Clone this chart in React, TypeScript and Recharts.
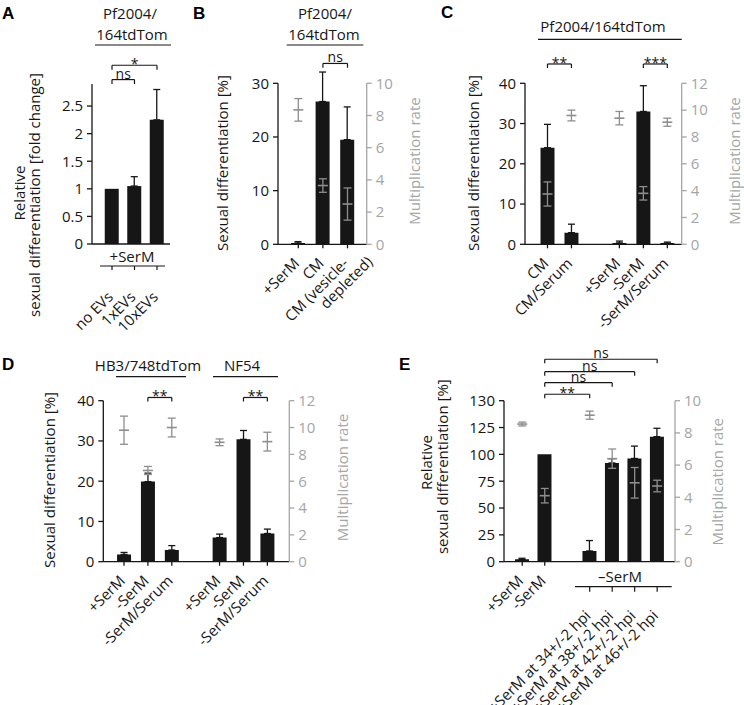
import React from "react";
import { Bar, ComposedChart, ErrorBar, ReferenceLine, Scatter, XAxis, YAxis } from "recharts";

const W = 744;
const H = 705;
const AXW = 45;
const XH = 40;
const INK = "#161616";
const GREY = "#a5a5a5";
const MARK = "#8e8e8e";
const FONT = "'Open Sans', 'Noto Sans', sans-serif";
const FS = 15;

type Num = number | null;
type Sig = { from: string; to: string; y: number; label: string };

// A: relative sexual differentiation (fold change), +SerM
const aKeys = ["a1", "a2", "a3"];
const aLabels = ["no EVs", "1xEVs", "10xEVs"];
const aFold: Num[] = [1.0, 1.05, 2.25];
const aFoldErr: Num[] = [null, 0.17, 0.55];
const aTicks = [0, 0.5, 1, 1.5, 2, 2.5];
const aSig: Sig[] = [
  { from: "a1", to: "a2", y: 2.98, label: "ns" },
  { from: "a1", to: "a3", y: 3.24, label: "*" },
];

// B
const bKeys = ["b1", "b2", "b3"];
const bLabels = ["+SerM", "CM", "CM (vesicle-|depleted)"];
const bSexDiff: Num[] = [0.25, 26.6, 19.5];
const bSexDiffErr: Num[] = [0.25, 5.5, 6.1];
const bMult: Num[] = [8.35, 3.65, 2.5];
const bMultErr: Num[] = [0.7, 0.42, 1.0];
const bSig: Sig[] = [{ from: "b2", to: "b3", y: 33.7, label: "ns" }];

// C
const cKeys = ["c1", "c2", "c3", "c4", "c5", "c6"];
const cLabels = ["CM", "CM/Serum", "", "+SerM", "-SerM", "-SerM/Serum"];
const cSexDiff: Num[] = [24.0, 2.9, null, 0.35, 33.0, 0.3];
const cSexDiffErr: Num[] = [5.8, 2.1, null, 0.45, 6.4, 0.25];
const cMult: Num[] = [3.75, 9.6, null, 9.4, 3.8, 9.1];
const cMultErr: Num[] = [0.9, 0.4, null, 0.5, 0.5, 0.3];
const cSig: Sig[] = [
  { from: "c1", to: "c2", y: 44.8, label: "**" },
  { from: "c5", to: "c6", y: 44.8, label: "***" },
];

// D
const dKeys = ["d1", "d2", "d3", "d4", "d5", "d6", "d7"];
const dLabels = ["+SerM", "-SerM", "-SerM/Serum", "", "+SerM", "-SerM", "-SerM/Serum"];
const dSexDiff: Num[] = [1.8, 19.9, 2.9, null, 6.0, 30.4, 7.0];
const dSexDiffErr: Num[] = [0.5, 2.1, 1.1, null, 0.85, 2.2, 1.1];
const dMult: Num[] = [9.8, 6.8, 10.0, null, 8.9, null, 8.95];
const dMultErr: Num[] = [1.05, 0.3, 0.7, null, 0.25, null, 0.7];
const dSig: Sig[] = [
  { from: "d2", to: "d3", y: 40.8, label: "**" },
  { from: "d6", to: "d7", y: 40.8, label: "**" },
];

// E
const eKeys = ["e1", "e2", "e3", "e4", "e5", "e6", "e7"];
const eLabels = [
  "+SerM",
  "-SerM",
  "",
  "+SerM at 34+/-2 hpi",
  "+SerM at 38+/-2 hpi",
  "+SerM at 42+/-2 hpi",
  "+SerM at 46+/-2 hpi",
];
const eRelDiff: Num[] = [2.2, 100, null, 10.0, 92, 96.2, 116.5];
const eRelDiffErr: Num[] = [1.0, null, null, 9.7, 4, 11.5, 7.8];
const eMult: Num[] = [8.55, 4.1, null, 9.1, 6.4, 4.9, 4.7];
const eMultErr: Num[] = [0.12, 0.45, null, 0.25, 0.6, 0.95, 0.36];
const eTickValues = [0, 25, 50, 75, 100, 125, 150];
const eTickLabels = ["0", "25", "50", "75", "100", "125", "130"];
const eSig: Sig[] = [
  { from: "e2", to: "e4", y: 156, label: "**" },
  { from: "e2", to: "e5", y: 166.8, label: "ns" },
  { from: "e2", to: "e6", y: 177, label: "ns" },
  { from: "e2", to: "e7", y: 188.6, label: "ns" },
];

const makeRows = (keys: string[], vals: Num[], errs: Num[], mult: Num[] = [], multErr: Num[] = []) =>
  keys.map((k, i) => ({
    k,
    v: vals[i],
    e: errs[i] == null ? null : [0, errs[i]],
    m: mult[i] ?? null,
    me: multErr[i] ?? null,
  }));

type Layout = {
  left: number;
  right: number;
  top: number;
  bottom: number;
  gapL: number;
  gapR?: number;
  padL: number;
  padR: number;
};

const layA: Layout = { left: 92, right: 170, top: 84, bottom: 244, gapL: 11, padL: 8.75, padR: 1.75 };
const layB: Layout = { left: 278, right: 366.7, top: 83.3, bottom: 244.3, gapL: 9.7, gapR: 10, padL: 8, padR: 6.9 };
const layC: Layout = { left: 525, right: 681.7, top: 83.3, bottom: 244.3, gapL: 6.7, gapR: 10, padL: 10.5, padR: 2.4 };
const layD: Layout = { left: 103.3, right: 289.3, top: 400.7, bottom: 561.7, gapL: 10, gapR: 10, padL: 8.75, padR: 10 };
const layE: Layout = { left: 504, right: 675, top: 400.7, bottom: 561.7, gapL: 6.7, gapR: 6.7, padL: 7, padR: 6.6 };

const centerOf = (l: Layout, n: number, i: number) => {
  const band = (l.right - l.left - l.padL - l.padR) / n;
  return l.left + l.padL + band * (i + 0.5);
};

const marginOf = (l: Layout) => ({
  top: l.top,
  bottom: H - l.bottom - XH,
  left: l.left - l.gapL - AXW,
  right: l.gapR == null ? W - l.right : W - l.right - l.gapR - AXW,
});

const xTick = (keys: string[], labels: string[], drops: number[], ticked: boolean[]) => (props: any) => {
  const { x, y, payload } = props;
  const i = keys.indexOf(payload.value);
  const text = labels[i];
  if (!text) return <g />;
  const base = y - 6;
  const ax = x + 2;
  const ay = base + drops[i];
  const lines = text.split("|");
  return (
    <g>
      {ticked[i] && <line x1={x} x2={x} y1={base} y2={base + 4} stroke={INK} strokeWidth={1.3} />}
      <text transform={`rotate(-45 ${ax} ${ay})`} x={ax} y={ay} textAnchor="end" fill={INK} fontSize={FS}>
        {lines.map((ln, j) => (
          <tspan key={j} x={ax + j * 18} dy={j === 0 ? 0 : 16}>
            {ln}
          </tspan>
        ))}
      </text>
    </g>
  );
};

const MultMark = (p: any) => {
  if (p?.payload?.m == null || !Number.isFinite(p.cy)) return <g />;
  return <line x1={p.cx - 5} x2={p.cx + 5} y1={p.cy} y2={p.cy} stroke={MARK} strokeWidth={1.6} />;
};

type PanelProps = {
  layout: Layout;
  rows: any[];
  tick: any;
  leftDomain: [number, number];
  leftTicks: number[];
  leftFormat?: (v: number) => string;
  overflow?: boolean;
  rightDomain?: [number, number];
  rightTicks?: number[];
  sig: Sig[];
  drop: number;
};

function Panel(p: PanelProps) {
  const hasRight = p.rightDomain != null;
  const line = { stroke: INK, strokeWidth: 1.3 };
  const gline = { stroke: GREY, strokeWidth: 1.3 };
  return (
    <div style={{ position: "absolute", left: 0, top: 0 }}>
      <ComposedChart width={W} height={H} data={p.rows} margin={marginOf(p.layout)}>
        <XAxis
          dataKey="k"
          type="category"
          interval={0}
          height={XH}
          padding={{ left: p.layout.padL, right: p.layout.padR }}
          tickSize={4}
          tickMargin={2}
          tickLine={false}
          axisLine={line}
          tick={p.tick}
        />
        <YAxis yAxisId="gapL" width={p.layout.gapL} domain={[0, 1]} allowDataOverflow tick={false} axisLine={false} tickLine={false} />
        <YAxis
          yAxisId="L"
          width={AXW}
          domain={p.leftDomain}
          ticks={p.leftTicks}
          interval={0}
          allowDataOverflow={p.overflow}
          tickFormatter={p.leftFormat}
          tickSize={5}
          tickMargin={4}
          axisLine={line}
          tickLine={line}
          tick={{ fill: INK, fontSize: FS }}
        />
        {hasRight && (
          <YAxis yAxisId="gapR" orientation="right" width={p.layout.gapR} domain={[0, 1]} allowDataOverflow tick={false} axisLine={false} tickLine={false} />
        )}
        {hasRight && (
          <YAxis
            yAxisId="R"
            orientation="right"
            width={AXW}
            domain={p.rightDomain}
            ticks={p.rightTicks}
            interval={0}
            tickSize={5}
            tickMargin={4}
            axisLine={gline}
            tickLine={gline}
            tick={{ fill: GREY, fontSize: FS }}
          />
        )}
        <Bar yAxisId="L" dataKey="v" fill={INK} barSize={14} isAnimationActive={false}>
          <ErrorBar dataKey="e" direction="y" width={3.5} stroke={INK} strokeWidth={1.3} isAnimationActive={false} />
        </Bar>
        {hasRight && (
          <Scatter yAxisId="R" dataKey="m" shape={MultMark} isAnimationActive={false}>
            <ErrorBar dataKey="me" direction="y" width={4} stroke={MARK} strokeWidth={1.3} isAnimationActive={false} />
          </Scatter>
        )}
        {p.sig.flatMap((s, i) => [
          <ReferenceLine
            key={`h${i}`}
            yAxisId="L"
            ifOverflow="visible"
            segment={[{ x: s.from, y: s.y }, { x: s.to, y: s.y }]}
            stroke={INK}
            strokeWidth={1.2}
            label={{ value: s.label, position: "top", offset: s.label === "ns" ? 1 : -4, fill: INK, fontSize: 14 }}
          />,
          <ReferenceLine
            key={`l${i}`}
            yAxisId="L"
            ifOverflow="visible"
            segment={[{ x: s.from, y: s.y }, { x: s.from, y: s.y - p.drop }]}
            stroke={INK}
            strokeWidth={1.2}
          />,
          <ReferenceLine
            key={`r${i}`}
            yAxisId="L"
            ifOverflow="visible"
            segment={[{ x: s.to, y: s.y }, { x: s.to, y: s.y - p.drop }]}
            stroke={INK}
            strokeWidth={1.2}
          />,
        ])}
      </ComposedChart>
    </div>
  );
}

const VText = ({ x, y, children, fill = INK }: { x: number; y: number; children: React.ReactNode; fill?: string }) => (
  <text x={x} y={y} transform={`rotate(-90 ${x} ${y})`} textAnchor="middle" fill={fill} fontSize={FS}>
    {children}
  </text>
);

const Letter = ({ x, y, children }: { x: number; y: number; children: React.ReactNode }) => (
  <text x={x} y={y} fontFamily="'Liberation Sans', Arial, sans-serif" fontWeight="bold" fontSize={17} fill="#000">
    {children}
  </text>
);

function Overlay() {
  const aCenters = aKeys.map((_, i) => centerOf(layA, aKeys.length, i));
  const eCenters = eKeys.map((_, i) => centerOf(layE, eKeys.length, i)).slice(3);
  const stroke = { stroke: INK, strokeWidth: 1.2 };
  return (
    <svg width={W} height={H} style={{ position: "absolute", left: 0, top: 0, pointerEvents: "none" }}>
      <Letter x={2} y={18.5}>A</Letter>
      <Letter x={193} y={18.5}>B</Letter>
      <Letter x={441} y={17.5}>C</Letter>
      <Letter x={2} y={370}>D</Letter>
      <Letter x={399} y={370}>E</Letter>

      <g fill={INK} fontSize={FS} textAnchor="middle">
        <text x={130} y={19}>Pf2004/</text>
        <text x={132} y={39.5}>164tdTom</text>
        <text x={325} y={19}>Pf2004/</text>
        <text x={324} y={39.5}>164tdTom</text>
        <text x={603} y={31.5}>Pf2004/164tdTom</text>
        <text x={148} y={370.5}>HB3/748tdTom</text>
        <text x={242} y={370.5}>NF54</text>
        <text x={132} y={261.5}>+SerM</text>
        <text x={620} y={581.5}>–SerM</text>
      </g>
      <line x1={95} x2={171} y1={45} y2={45} {...stroke} />
      <line x1={286.7} x2={363.3} y1={45} y2={45} {...stroke} />
      <line x1={538} x2={681.7} y1={39.3} y2={39.3} {...stroke} />
      <line x1={116} x2={186} y1={376.7} y2={376.7} {...stroke} />
      <line x1={213} x2={278} y1={376.7} y2={376.7} {...stroke} />

      <line x1={100} x2={165} y1={266} y2={266} {...stroke} />
      {aCenters.map((cx, i) => (
        <line key={`at${i}`} x1={cx} x2={cx} y1={266} y2={270} {...stroke} />
      ))}
      <line x1={575} x2={671.7} y1={586.7} y2={586.7} {...stroke} />
      {eCenters.map((cx, i) => (
        <line key={`et${i}`} x1={cx} x2={cx} y1={586.7} y2={591.7} {...stroke} />
      ))}

      <VText x={25} y={193}>Relative</VText>
      <VText x={40} y={195}>sexual differentiation [fold change]</VText>
      <VText x={228} y={163}>Sexual differentiation [%]</VText>
      <VText x={420} y={161} fill={GREY}>Multiplication rate</VText>
      <VText x={479} y={163}>Sexual differentiation [%]</VText>
      <VText x={740} y={161} fill={GREY}>Multiplication rate</VText>
      <VText x={55} y={480}>Sexual differentiation [%]</VText>
      <VText x={348} y={477.5} fill={GREY}>Multiplication rate</VText>
      <VText x={432} y={462.5}>Relative</VText>
      <VText x={448.5} y={466.7}>sexual differentiation [%]</VText>
      <VText x={723} y={481.7} fill={GREY}>Multiplication rate</VText>
    </svg>
  );
}

export default function App() {
  const all = (n: number, v: boolean) => Array.from({ length: n }, () => v);
  return (
    <div
      style={{
        position: "absolute",
        left: 0,
        top: 0,
        width: W,
        height: H,
        background: "#fff",
        overflow: "hidden",
        fontFamily: FONT,
        fontSize: FS,
      }}
    >
      <Panel
        layout={layA}
        rows={makeRows(aKeys, aFold, aFoldErr)}
        tick={xTick(aKeys, aLabels, all(3, 54), all(3, false))}
        leftDomain={[0, 2.9]}
        leftTicks={aTicks}
        overflow
        sig={aSig}
        drop={0.08}
      />
      <Panel
        layout={layB}
        rows={makeRows(bKeys, bSexDiff, bSexDiffErr, bMult, bMultErr)}
        tick={xTick(bKeys, bLabels, all(3, 20), all(3, true))}
        leftDomain={[0, 30]}
        leftTicks={[0, 10, 20, 30]}
        overflow
        rightDomain={[0, 10]}
        rightTicks={[0, 2, 4, 6, 8, 10]}
        sig={bSig}
        drop={0.8}
      />
      <Panel
        layout={layC}
        rows={makeRows(cKeys, cSexDiff, cSexDiffErr, cMult, cMultErr)}
        tick={xTick(cKeys, cLabels, all(6, 20), all(6, true))}
        leftDomain={[0, 40]}
        leftTicks={[0, 10, 20, 30, 40]}
        overflow
        rightDomain={[0, 12]}
        rightTicks={[0, 2, 4, 6, 8, 10, 12]}
        sig={cSig}
        drop={1}
      />
      <Panel
        layout={layD}
        rows={makeRows(dKeys, dSexDiff, dSexDiffErr, dMult, dMultErr)}
        tick={xTick(dKeys, dLabels, all(7, 20), all(7, true))}
        leftDomain={[0, 40]}
        leftTicks={[0, 10, 20, 30, 40]}
        overflow
        rightDomain={[0, 12]}
        rightTicks={[0, 2, 4, 6, 8, 10, 12]}
        sig={dSig}
        drop={1}
      />
      <Panel
        layout={layE}
        rows={makeRows(eKeys, eRelDiff, eRelDiffErr, eMult, eMultErr)}
        tick={xTick(eKeys, eLabels, [20, 20, 0, 55, 55, 55, 55], [true, true, false, false, false, false, false])}
        leftDomain={[0, 150]}
        leftTicks={eTickValues}
        leftFormat={(v: number) => eTickLabels[eTickValues.indexOf(v)] ?? String(v)}
        overflow
        rightDomain={[0, 10]}
        rightTicks={[0, 2, 4, 6, 8, 10]}
        sig={eSig}
        drop={3.7}
      />
      <Overlay />
    </div>
  );
}
